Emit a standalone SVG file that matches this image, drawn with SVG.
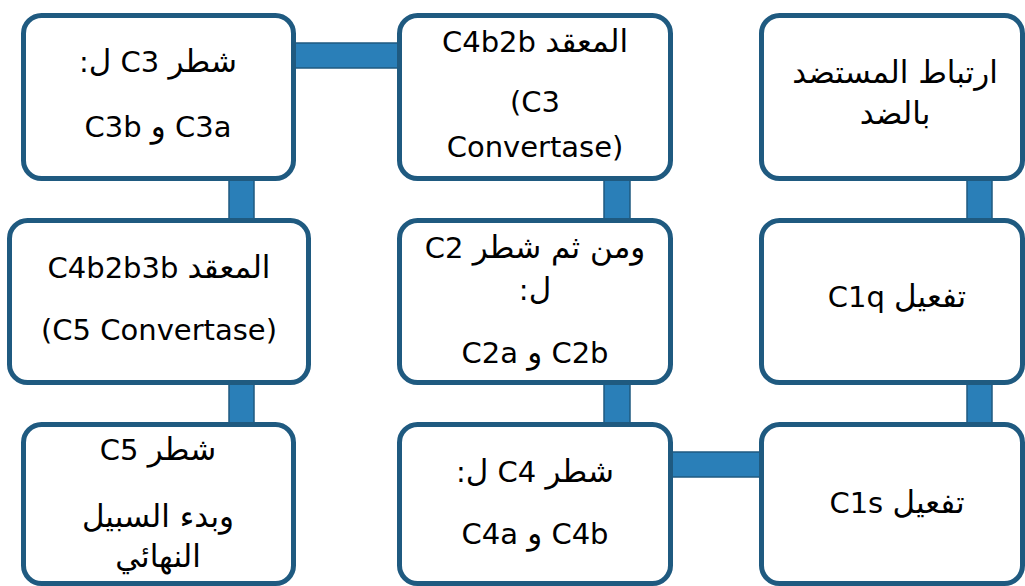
<svg xmlns="http://www.w3.org/2000/svg" width="1025" height="586" viewBox="0 0 1025 586">
  <style>
    .box { fill: #ffffff; stroke: #1f5a80; stroke-width: 5; }
    .bar { fill: #2a7fb8; stroke: #1f5a80; stroke-width: 1.5; }
    text { font-family: "DejaVu Sans", "Noto Sans", sans-serif; font-size: 29px; fill: #000000; text-anchor: middle; }
    .ar { font-size: 31px; }
    .rtl { direction: rtl; unicode-bidi: embed; }
    .ltr { direction: ltr; }
  </style>

  <!-- connectors: thick bars between neighbouring steps -->
  <g id="connectors">
    <rect class="bar" x="294" y="43" width="105" height="25"/>
    <rect class="bar" x="229" y="178" width="25" height="44"/>
    <rect class="bar" x="229" y="381" width="25" height="45"/>
    <rect class="bar" x="604" y="178" width="26" height="44"/>
    <rect class="bar" x="604" y="381" width="26" height="45"/>
    <rect class="bar" x="671" y="452" width="90" height="25"/>
    <rect class="bar" x="967" y="178" width="25" height="44"/>
    <rect class="bar" x="967" y="381" width="25" height="45"/>
  </g>

  <!-- top row -->
  <g id="node-c3-cleavage">
    <rect class="box" x="23.5" y="15.5" width="270" height="163" rx="18"/>
    <text class="rtl" x="158" y="72"><tspan class="ar">شطر</tspan> C3 <tspan class="ar">ل</tspan>:</text>
    <text class="rtl" x="158" y="137">C3a <tspan class="ar">و</tspan> C3b</text>
  </g>
  <g id="node-c3-convertase">
    <rect class="box" x="399.5" y="15.5" width="271" height="163" rx="18"/>
    <text class="rtl" x="535" y="52"><tspan class="ar">المعقد</tspan> C4b2b</text>
    <text class="ltr" x="535" y="112">(C3</text>
    <text class="ltr" x="535" y="157">Convertase)</text>
  </g>
  <g id="node-antigen-binding">
    <rect class="box" x="761.5" y="15.5" width="261" height="163" rx="18"/>
    <text class="rtl ar" x="895" y="83">ارتباط المستضد</text>
    <text class="rtl ar" x="895" y="124">بالضد</text>
  </g>

  <!-- middle row -->
  <g id="node-c5-convertase">
    <rect class="box" x="9.5" y="220.5" width="299" height="162" rx="18"/>
    <text class="rtl" x="159" y="278"><tspan class="ar">المعقد</tspan> C4b2b3b</text>
    <text class="ltr" x="159" y="340">(C5 Convertase)</text>
  </g>
  <g id="node-c2-cleavage">
    <rect class="box" x="399.5" y="220.5" width="271" height="162" rx="18"/>
    <text class="rtl" x="535" y="258"><tspan class="ar">ومن ثم شطر</tspan> C2</text>
    <text class="rtl" x="535" y="300"><tspan class="ar">ل</tspan>:</text>
    <text class="rtl" x="535" y="363">C2b <tspan class="ar">و</tspan> C2a</text>
  </g>
  <g id="node-c1q">
    <rect class="box" x="761.5" y="220.5" width="261" height="162" rx="18"/>
    <text class="rtl" x="897" y="307"><tspan class="ar">تفعيل</tspan> C1q</text>
  </g>

  <!-- bottom row -->
  <g id="node-c5-cleavage">
    <rect class="box" x="23.5" y="424.5" width="270" height="159" rx="18"/>
    <text class="rtl" x="158" y="460"><tspan class="ar">شطر</tspan> C5</text>
    <text class="rtl ar" x="158" y="527">وبدء السبيل</text>
    <text class="rtl ar" x="158" y="567">النهائي</text>
  </g>
  <g id="node-c4-cleavage">
    <rect class="box" x="399.5" y="424.5" width="271" height="159" rx="18"/>
    <text class="rtl" x="535" y="482"><tspan class="ar">شطر</tspan> C4 <tspan class="ar">ل</tspan>:</text>
    <text class="rtl" x="535" y="544">C4b <tspan class="ar">و</tspan> C4a</text>
  </g>
  <g id="node-c1s">
    <rect class="box" x="761.5" y="424.5" width="261" height="159" rx="18"/>
    <text class="rtl" x="897" y="513"><tspan class="ar">تفعيل</tspan> C1s</text>
  </g>
</svg>
